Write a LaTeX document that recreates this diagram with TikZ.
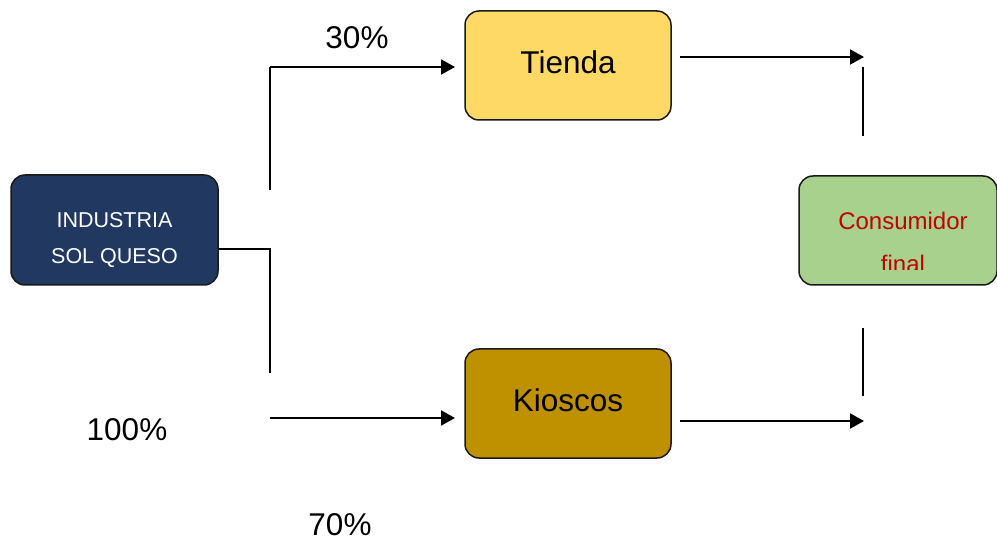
\documentclass[tikz,border=0pt]{standalone}
\usepackage{fontspec}
\setmainfont{Liberation Sans}
\usetikzlibrary{arrows.meta}
\definecolor{navy}{RGB}{33,56,96}
\definecolor{tiendaY}{RGB}{255,217,102}
\definecolor{kioscoG}{RGB}{191,144,0}
\definecolor{consG}{RGB}{169,209,142}
\definecolor{consR}{RGB}{192,0,0}
\tikzset{
  box/.style={draw=black!90, line width=1.5pt, rounded corners=14pt},
  conn/.style={line width=2pt},
  arr/.style={conn, -{Triangle[length=14pt,width=15pt]}},
  lbl/.style={anchor=base, inner sep=0pt, font=\fontsize{31.5}{36}\selectfont},
  indtxt/.style={anchor=base, inner sep=0pt, text=white, font=\fontsize{21.5}{24}\selectfont},
  constxt/.style={anchor=base, inner sep=0pt, text=consR, font=\fontsize{24}{28}\selectfont},
}
\begin{document}
\begin{tikzpicture}[x=1pt,y=-1pt]
\useasboundingbox (0,0) rectangle (997,540);
% boxes
\draw[box, fill=navy] (11,175) rectangle (218,285);
\coordinate (ind) at (218,249);
\node[indtxt] (ind1) at (114.5,228) {INDUSTRIA};
\node[indtxt] (ind2) at (114.5,264) {SOL QUESO};

\draw[box, fill=tiendaY] (465,11) rectangle (671,120);
\node[lbl] (tienda) at (568,74) {Tienda};

\draw[box, fill=kioscoG] (465,349) rectangle (671,458);
\node[lbl] (kioscos) at (568,411) {Kioscos};

\draw[box, fill=consG] (799,176) rectangle (997,285);
\node[constxt] (cons1) at (903,230) {Consumidor};
\begin{scope}
\clip (790,150) rectangle (1000,269.5);
\node[constxt] (cons2) at (903,273) {final};
\end{scope}

% labels
\node[lbl] (p30) at (357,49) {30\%};
\node[lbl] (p100) at (127,440) {100\%};
\node[lbl] (p70) at (340,535) {70\%};

% left connectors
\coordinate (j1) at (270,249);
\coordinate (j2) at (270,373);
\coordinate (u1) at (270,190);
\coordinate (u2) at (270,67);
\coordinate (ta) at (455,67);
\coordinate (l1) at (270,418);
\coordinate (ka) at (455,418);
\draw[conn] (ind) -- (j1) -- (j2);
\draw[conn] (u1) -- (u2);
\draw[arr] (u2) -- (ta);
\draw[arr] (l1) -- (ka);

% right connectors
\coordinate (r1) at (680,57);
\coordinate (r2) at (864,57);
\coordinate (v1) at (863,67);
\coordinate (v2) at (863,136);
\coordinate (v3) at (863,328);
\coordinate (v4) at (863,396);
\coordinate (r3) at (680,421);
\coordinate (r4) at (864,421);
\draw[arr] (r1) -- (r2);
\draw[conn] (v1) -- (v2);
\draw[conn] (v3) -- (v4);
\draw[arr] (r3) -- (r4);
\end{tikzpicture}
\end{document}
